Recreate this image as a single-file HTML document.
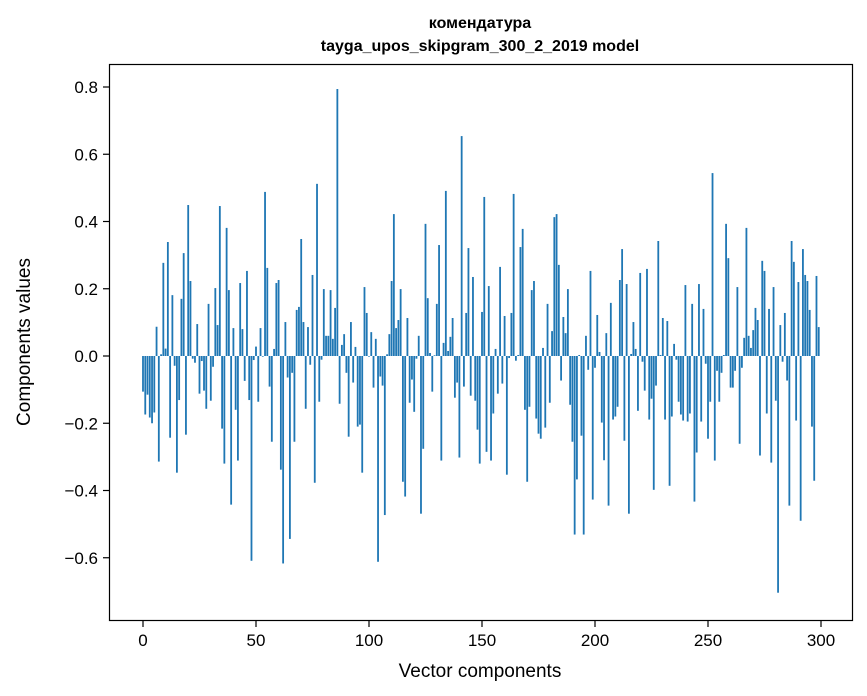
<!DOCTYPE html>
<html><head><meta charset="utf-8"><style>
body{margin:0;background:#fff;}
svg{display:block;font-family:"Liberation Sans","DejaVu Sans",sans-serif;}
</style></head><body>
<svg id="chart" width="867" height="696" xmlns="http://www.w3.org/2000/svg">
<rect width="867" height="696" fill="#fff"/>
<text x="480" y="28" text-anchor="middle" font-size="16" font-weight="bold">комендатура</text>
<text x="480" y="51" text-anchor="middle" font-size="16" font-weight="bold">tayga_upos_skipgram_300_2_2019 model</text>
<g id="bars"></g>
<rect x="109.5" y="64.5" width="743" height="556" fill="none" stroke="#000" stroke-width="1.2"/>
<g id="xticks"></g>
<g id="yticks"></g>
<text x="480" y="677" text-anchor="middle" font-size="19">Vector components</text>
<text transform="translate(30,342) rotate(-90)" text-anchor="middle" font-size="19">Components values</text>
</svg>
<script>
const values = [
-0.106,-0.174,-0.115,-0.183,-0.2,-0.168,0.087,-0.314,0.005,0.277,
0.022,0.339,-0.243,0.181,-0.029,-0.347,-0.131,0.17,0.306,-0.234,
0.449,0.223,-0.008,-0.02,0.095,-0.112,-0.015,-0.103,-0.157,0.155,
-0.133,-0.032,0.202,0.092,0.446,-0.216,-0.32,0.381,0.196,-0.442,
0.083,-0.16,-0.311,0.217,0.08,-0.074,0.253,-0.131,-0.609,-0.012,
0.028,-0.136,0.083,-0.002,0.488,0.262,-0.091,-0.255,0.021,0.217,
0.226,-0.338,-0.617,0.101,-0.064,-0.544,-0.05,-0.255,0.137,0.146,
0.348,0.101,-0.157,0.086,-0.026,0.241,-0.377,0.512,-0.136,-0.011,
0.199,0.06,0.06,0.196,0.051,0.143,0.794,-0.142,0.033,0.065,
-0.05,-0.24,0.101,-0.079,0.027,-0.21,-0.204,-0.347,0.205,0.128,
-0.002,0.071,-0.094,0.051,-0.612,-0.061,-0.088,-0.473,0.005,0.065,
0.223,0.422,0.083,0.107,0.199,-0.374,-0.418,0.113,-0.139,-0.07,
-0.166,-0.008,0.06,-0.469,-0.276,0.393,0.172,0.009,-0.106,0.002,
0.155,0.33,-0.311,0.039,0.491,0.015,0.057,0.113,-0.124,-0.079,
-0.302,0.654,-0.091,0.128,0.321,-0.118,0.235,-0.133,-0.219,-0.32,
0.131,0.473,-0.285,0.208,-0.311,-0.171,0.021,-0.112,0.265,-0.082,
0.119,-0.353,-0.006,0.128,0.482,-0.014,0.003,0.324,0.378,-0.16,
-0.374,-0.151,0.196,0.223,-0.186,-0.231,-0.246,0.024,-0.213,0.155,
-0.139,0.074,0.413,0.422,0.271,-0.073,0.116,0.068,0.199,-0.145,
-0.255,-0.531,-0.367,0.003,-0.237,-0.531,0.06,-0.041,0.253,-0.427,
-0.035,0.122,0.012,-0.198,-0.31,0.068,-0.445,0.158,-0.189,-0.18,
-0.151,0.226,0.318,-0.252,0.214,-0.469,0.006,0.101,0.021,-0.163,
0.247,-0.017,-0.103,0.259,-0.189,-0.127,-0.398,-0.088,0.342,0.003,
0.113,-0.189,0.104,-0.386,-0.18,0.036,-0.011,-0.136,-0.174,-0.192,
0.211,-0.195,-0.171,0.155,-0.433,-0.287,0.214,-0.195,0.14,-0.023,
-0.246,-0.136,0.544,-0.311,-0.044,-0.136,-0.05,0.003,0.393,0.291,
-0.094,-0.094,-0.044,0.205,-0.261,-0.035,0.054,0.381,0.06,0.024,
0.077,0.143,0.107,-0.296,0.283,0.253,-0.171,0.14,-0.317,0.205,
-0.133,-0.704,0.092,-0.017,0.128,-0.073,-0.445,0.342,0.28,-0.192,
0.22,-0.49,0.318,0.241,0.223,0.137,-0.21,-0.371,0.238,0.086
];
const xTicks = [0,50,100,150,200,250,300];
const yTicks = [-0.6,-0.4,-0.2,0,0.2,0.4,0.6,0.8];
const NS = "http://www.w3.org/2000/svg";
const xs = v => 143 + v * 2.26;
const ys = v => 356 - v * 336.25;
const bars = document.getElementById('bars');
values.forEach((v, i) => {
  const r = document.createElementNS(NS, 'rect');
  const y0 = ys(0), y1 = ys(v);
  r.setAttribute('x', xs(i - 0.4));
  r.setAttribute('width', 2.26 * 0.8);
  r.setAttribute('y', Math.min(y0, y1));
  r.setAttribute('height', Math.abs(y1 - y0));
  r.setAttribute('fill', '#1f77b4');
  
  
  bars.appendChild(r);
});
const xg = document.getElementById('xticks');
xTicks.forEach(t => {
  const l = document.createElementNS(NS, 'line');
  l.setAttribute('x1', xs(t)); l.setAttribute('x2', xs(t));
  l.setAttribute('y1', 621); l.setAttribute('y2', 627);
  l.setAttribute('stroke', '#000'); l.setAttribute('stroke-width', '1.2');
  
  
  xg.appendChild(l);
  const tx = document.createElementNS(NS, 'text');
  tx.setAttribute('x', xs(t)); tx.setAttribute('y', 646);
  tx.setAttribute('text-anchor', 'middle'); tx.setAttribute('font-size', '17');
  tx.textContent = String(t);
  
  
  xg.appendChild(tx);
});
const yg = document.getElementById('yticks');
yTicks.forEach(t => {
  const l = document.createElementNS(NS, 'line');
  l.setAttribute('x1', 103); l.setAttribute('x2', 109);
  l.setAttribute('y1', ys(t)); l.setAttribute('y2', ys(t));
  l.setAttribute('stroke', '#000'); l.setAttribute('stroke-width', '1.2');
  
  
  yg.appendChild(l);
  const tx = document.createElementNS(NS, 'text');
  tx.setAttribute('x', 98); tx.setAttribute('y', ys(t) + 6);
  tx.setAttribute('text-anchor', 'end'); tx.setAttribute('font-size', '17');
  tx.textContent = (t < 0 ? '\u2212' : '') + Math.abs(t).toFixed(1);
  
  
  yg.appendChild(tx);
});
</script>
</body></html>
